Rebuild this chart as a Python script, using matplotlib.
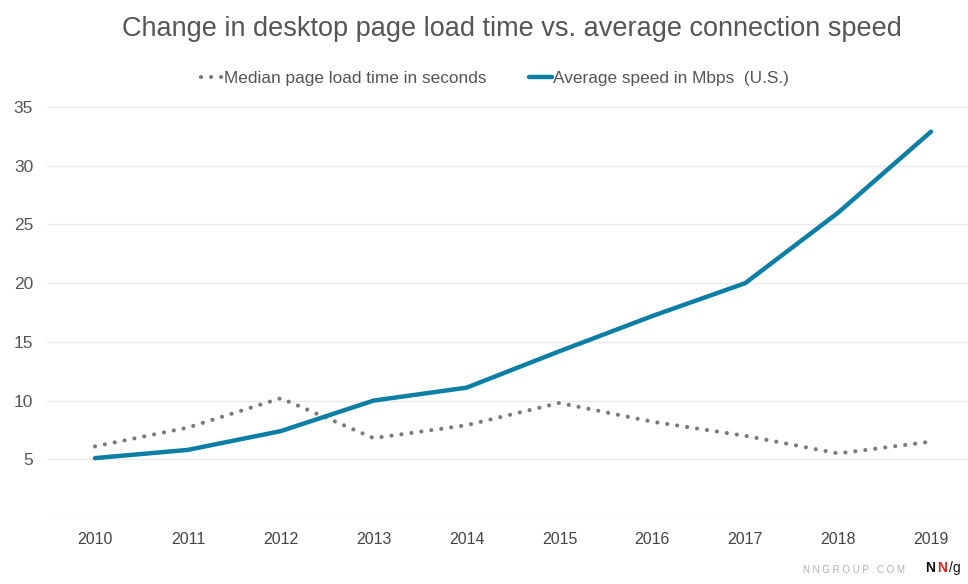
import matplotlib
matplotlib.use("Agg")
import matplotlib.pyplot as plt

plt.rcParams["font.family"] = ["Liberation Sans", "DejaVu Sans"]

# data
years = [2010, 2011, 2012, 2013, 2014, 2015, 2016, 2017, 2018, 2019]
median_load = [6.1, 7.7, 10.2, 6.8, 7.9, 9.8, 8.2, 7.0, 5.5, 6.5]
avg_speed = [5.1, 5.8, 7.4, 10.0, 11.1, 14.2, 17.2, 20.0, 26.0, 32.9]
y_ticks = [0, 5, 10, 15, 20, 25, 30, 35]

title = "Change in desktop page load time vs. average connection speed"
label_load = "Median page load time in seconds"
label_speed = "Average speed in Mbps  (U.S.)"

blue = "#0d7fa5"
grey = "#7a7a7a"
text_grey = "#555555"

fig = plt.figure(figsize=(9.68, 5.84), dpi=100)
ax = fig.add_axes([47 / 968, 66 / 584, 1 - 47 / 968, 411 / 584])

ax.plot(years, median_load, color=grey, lw=3.0, linestyle=(0, (0.01, 2.4)),
        dash_capstyle="round", label=label_load)
ax.plot(years, avg_speed, color=blue, lw=3.2, solid_capstyle="round",
        label=label_speed)

ax.set_ylim(0, 35)
ax.set_xlim(2010 - 48 / 92.9, 2019 + 37 / 92.9)
ax.set_yticks(y_ticks)
ax.set_yticklabels(["" if v == 0 else str(v) for v in y_ticks])
ax.set_xticks(years)
ax.grid(axis="y", color="#e9e9e9", lw=1)
ax.set_axisbelow(True)
for s in ax.spines.values():
    s.set_visible(False)
ax.tick_params(axis="both", length=0, colors=text_grey)
ax.tick_params(axis="y", pad=10, labelsize=12.5)
ax.tick_params(axis="x", pad=10, labelsize=11.5)
for lbl in ax.get_xticklabels():
    lbl.set_color("#444444")

fig.text(0.529, 0.950, title, ha="center", va="center", fontsize=19.5,
         color=text_grey)

leg = fig.legend(loc="center", bbox_to_anchor=(0.511, 0.866), ncol=2,
                 frameon=False, fontsize=12.4, handlelength=1.3,
                 handletextpad=0.05, columnspacing=2.5)
for t in leg.get_texts():
    t.set_color(text_grey)

fig.text(0.935, 0.015, "N N G R O U P . C O M", ha="right", va="bottom",
         fontsize=7, color="#b0b0b0")
fig.text(0.956, 0.015, "N", ha="left", va="bottom", fontsize=10,
         fontweight="bold", color="#111111")
fig.text(0.968, 0.015, "N", ha="left", va="bottom", fontsize=10,
         fontweight="bold", color="#e3231b")
fig.text(0.980, 0.015, "/g", ha="left", va="bottom", fontsize=10,
         color="#111111")

fig.savefig("out.png", dpi=100, facecolor="white")
